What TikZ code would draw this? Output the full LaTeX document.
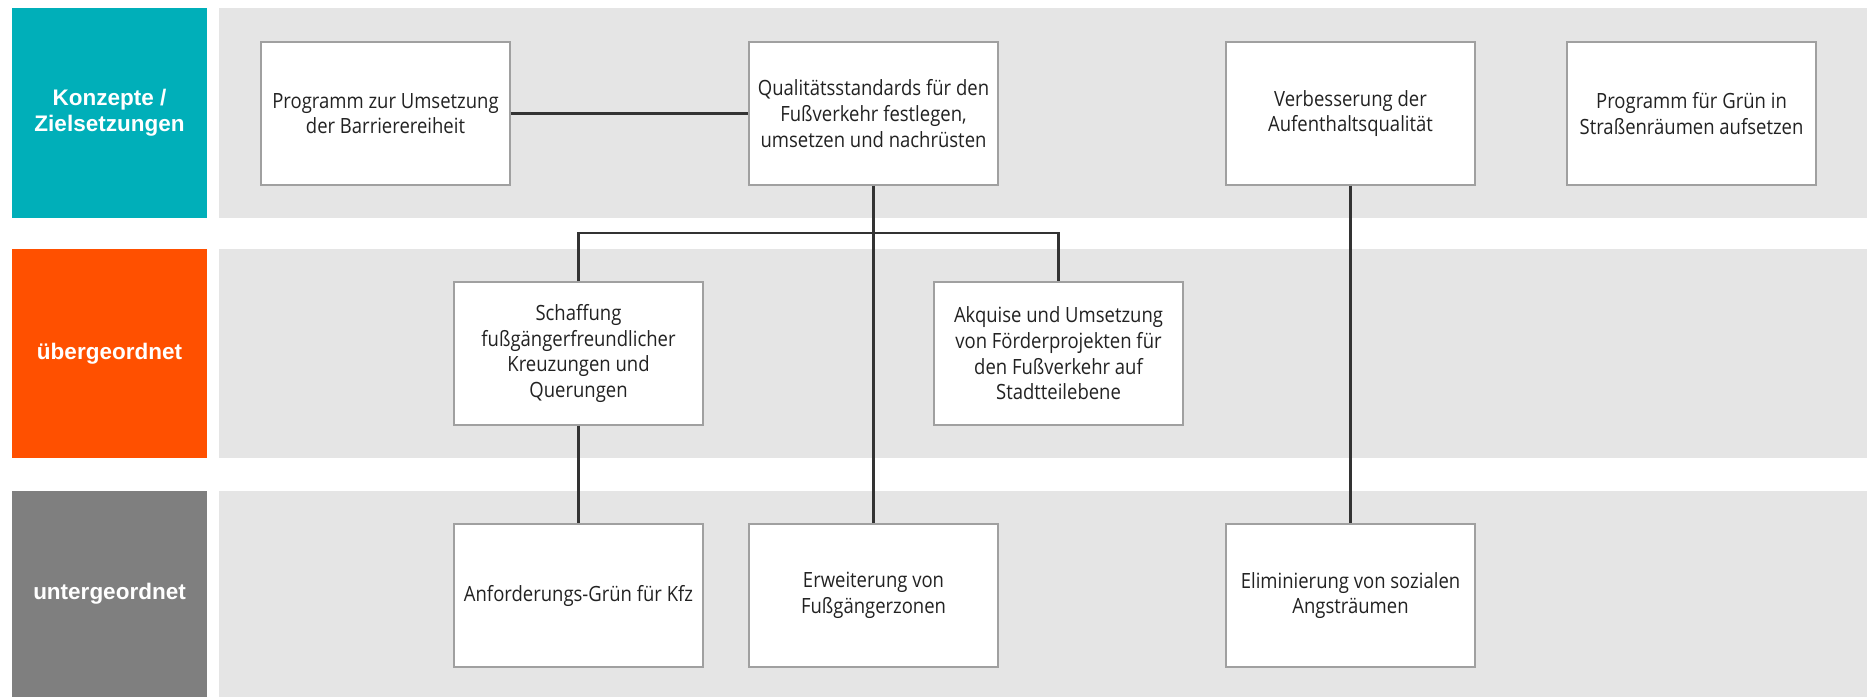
\documentclass[tikz,border=0pt]{standalone}
\usepackage{fontspec}
\setmainfont{Open Sans}
\newfontfamily\boxfont[FakeStretch=0.88]{Open Sans}
\newfontfamily\labfont{Liberation Sans}
\definecolor{tealc}{HTML}{00AFB9}
\definecolor{orangec}{HTML}{FF5000}
\definecolor{grayc}{HTML}{7F7F7F}
\definecolor{bandc}{HTML}{E5E5E5}
\definecolor{boxborder}{HTML}{A0A0A0}
\definecolor{linec}{HTML}{333333}
\definecolor{textc}{HTML}{222222}
\begin{document}
\begin{tikzpicture}[x=1pt,y=-1pt,
  band/.style={fill=bandc},
  lab/.style={minimum width=195pt, inner sep=0pt, align=center, text=white,
    font=\labfont\bfseries\fontsize{22.5}{26}\selectfont},
  box/.style={draw=boxborder, line width=1.2pt, fill=white, minimum width=249pt,
    minimum height=143pt, inner sep=0pt, align=center, text=textc,
    font=\boxfont\fontsize{21}{25.6}\selectfont},
  conn/.style={draw=linec, line width=2.2pt}]
\useasboundingbox (0,0) rectangle (1867,697);
\fill[white] (0,0) rectangle (1867,697);
% bands
\fill[band] (219,8) rectangle (1867,218);
\fill[band] (219,249) rectangle (1867,458);
\fill[band] (219,491) rectangle (1867,697);
% labels
\node[lab, fill=tealc, minimum height=210pt] (l1) at (109.5,113) {Konzepte /\\Zielsetzungen};
\node[lab, fill=orangec, minimum height=209pt] (l2) at (109.5,353.5) {übergeordnet};
\node[lab, fill=grayc, minimum height=206pt] (l3) at (109.5,594) {untergeordnet};
% boxes
\node[box] (b1) at (385.5,113.5) {Programm zur Umsetzung\\der Barrierereiheit};
\node[box] (b2) at (873.5,113.5) {Qualitätsstandards für den\\Fußverkehr festlegen,\\umsetzen und nachrüsten};
\node[box] (b3) at (1350.5,113.5) {Verbesserung der\\Aufenthaltsqualität};
\node[box] (b4) at (1691.5,113.5) {Programm für Grün in\\Straßenräumen aufsetzen};
\node[box] (b5) at (578.5,353.5) {Schaffung\\fußgängerfreundlicher\\Kreuzungen und\\Querungen};
\node[box] (b6) at (1058.5,353.5) {Akquise und Umsetzung\\von Förderprojekten für\\den Fußverkehr auf\\Stadtteilebene};
\node[box] (b7) at (578.5,595.5) {Anforderungs-Grün für Kfz};
\node[box] (b8) at (873.5,595.5) {Erweiterung von\\Fußgängerzonen};
\node[box] (b9) at (1350.5,595.5) {Eliminierung von sozialen\\Angsträumen};
% connectors
\coordinate (bus) at (0,233);
\draw[conn] (b1.east) -- (b2.west);
\draw[conn] (b2.south) -- (b8.north);
\draw[conn] (b5.north) -- (b5.north |- bus) -- (b6.north |- bus) -- (b6.north);
\draw[conn] (b5.south) -- (b7.north);
\draw[conn] (b3.south) -- (b9.north);
\end{tikzpicture}
\end{document}
